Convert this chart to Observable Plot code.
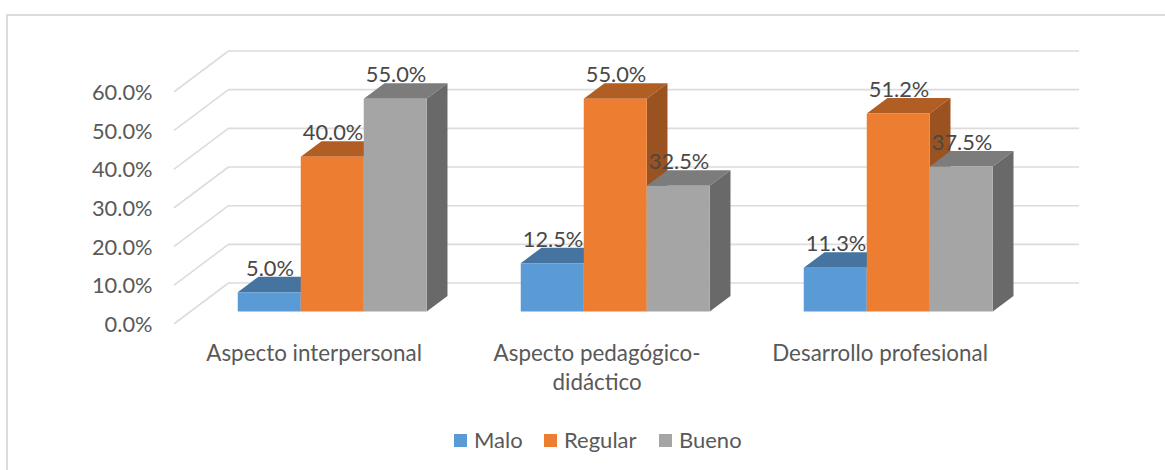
<!DOCTYPE html>
<html><head><meta charset="utf-8">
<script src="https://cdn.jsdelivr.net/npm/d3@7"></script>
<script src="https://cdn.jsdelivr.net/npm/@observablehq/plot@0.6"></script>
<style>
html,body{margin:0;padding:0;background:#fff;width:1165px;height:470px;overflow:hidden}
#frame{position:absolute;left:6px;top:14px;width:1165px;height:470px;border:2px solid #dcdcdc;box-sizing:border-box;pointer-events:none}
#chart{position:absolute;left:0;top:0}
#legend{position:absolute;left:0;top:426px;height:28px;width:1165px;font:22px Lato,sans-serif;color:#595959}
#legend span{position:absolute;white-space:nowrap;line-height:28px}
#legend i{position:absolute;top:8px;width:13px;height:13px;display:block}
text{font-family:Lato,sans-serif}
</style></head><body>
<div id="frame"></div><div id="chart"></div><div id="legend"></div>
<script>
const categories = ["Aspecto interpersonal", "Aspecto pedagógico-\ndidáctico", "Desarrollo profesional"];
const seriesNames = ["Malo", "Regular", "Bueno"];
const malo = [5.0, 12.5, 11.3];
const regular = [40.0, 55.0, 51.2];
const bueno = [55.0, 32.5, 37.5];
const yTicks = [0, 10, 20, 30, 40, 50, 60];
const frontColors = ["#5b9bd5", "#ed7d31", "#a5a5a5"];
const topColors = ["#44749f", "#b15e24", "#7c7c7c"];
const sideColors = ["#3d6890", "#9a5220", "#696969"];

// Oblique projection: one x unit = one bar width; depth 0..1 runs from front plane to back wall.
// Bars are placed so that x = 0 is the front-left corner of the first bar.
const pitch = 4.492, wallX = 0.857, wallY = 10.47;
const barFront = 0.296, barBack = 0.68;
const barShift = -0.012;
const px = (u, d) => u + barShift + (d - barFront) * wallX;
const py = (v, d) => v + d * wallY;
const left = -1.016, right = 13.333;

const values = [malo, regular, bueno];
const faces = [], labels = [];
categories.forEach((c, g) => {
  seriesNames.forEach((s, i) => {
    const v = values[i][g], x0 = g * pitch + i, x1 = x0 + 1;
    const poly = (name, color, pts) => pts.forEach(([u, val, d]) =>
      faces.push({id: `${g}-${i}-${name}`, color, x: px(u, d), y: py(val, d)}));
    poly("top", topColors[i], [[x0, v, barFront], [x1, v, barFront], [x1, v, barBack], [x0, v, barBack]]);
    poly("side", sideColors[i], [[x1, 0, barFront], [x1, v, barFront], [x1, v, barBack], [x1, 0, barBack]]);
    poly("front", frontColors[i], [[x0, 0, barFront], [x1, 0, barFront], [x1, v, barFront], [x0, v, barFront]]);
    labels.push({x: x0 + 0.5, y: py(v, barBack), text: v.toFixed(1) + "%"});
  });
});
const grid = yTicks.flatMap(t => [
  {t, x: left, y: t},
  {t, x: left + wallX, y: t + wallY},
  {t, x: right, y: t + wallY}
]);
const catLabels = categories.map((c, g) => ({x: g * pitch + 1.2, text: c}));

const plot = Plot.plot({
  width: 1165, height: 400,
  marginLeft: 152, marginRight: 87, marginTop: 50, marginBottom: 77,
  x: {domain: [-1.365, 13.333], axis: null},
  y: {domain: [0, 70.6]},
  color: {type: "identity"},
  style: {background: "transparent", overflow: "visible"},
  marks: [
    Plot.axisY({ticks: yTicks, tickSize: 0, tickPadding: 0, tickFormat: d => d.toFixed(1) + "%", label: null,
      fontSize: 21.8, fill: "#595959", dy: 1.5}),
    Plot.line(grid, {x: "x", y: "y", z: "t", stroke: "#dcdcdc", strokeWidth: 1.6}),
    Plot.line(faces, {x: "x", y: "y", z: "id", fill: "color", stroke: "none"}),
    Plot.text(labels, {x: "x", y: "y", text: "text", lineAnchor: "bottom", dy: -1, fontSize: 21.8, fill: "#484848"}),
    Plot.text(catLabels, {x: "x", y: () => 0, text: "text", lineAnchor: "top", dy: 17, fontSize: 22.4, lineHeight: 1.3, fill: "#595959"})
  ]
});
document.getElementById("chart").append(plot);

const legend = document.getElementById("legend");
const swatchX = [454, 544, 659];
seriesNames.forEach((s, i) => {
  const sw = document.createElement("i");
  sw.style.left = swatchX[i] + "px"; sw.style.background = frontColors[i];
  const t = document.createElement("span");
  t.textContent = s; t.style.left = (swatchX[i] + 20) + "px";
  legend.append(sw, t);
});
</script></body></html>
